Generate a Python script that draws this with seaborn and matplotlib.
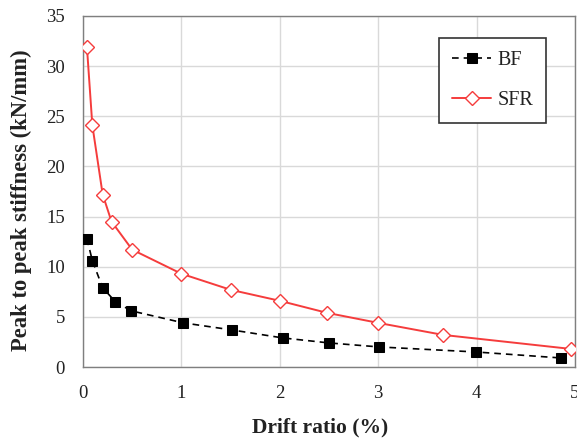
import matplotlib
matplotlib.use("Agg")
import matplotlib.pyplot as plt
import seaborn as sns
import pandas as pd

# Drift ratio (%) and peak-to-peak stiffness (kN/mm) for each specimen
bf_drift = [0.04, 0.095, 0.2, 0.33, 0.49, 1.02, 1.51, 2.03, 2.5, 3.01, 3.99, 4.86]
bf_stiff = [12.8, 10.6, 7.9, 6.5, 5.6, 4.4, 3.7, 2.9, 2.4, 2.0, 1.5, 0.9]

sfr_drift = [0.04, 0.095, 0.2, 0.29, 0.5, 1.0, 1.5, 2.0, 2.48, 3.0, 3.66, 4.96]
sfr_stiff = [31.9, 24.1, 17.2, 14.5, 11.7, 9.3, 7.7, 6.6, 5.4, 4.4, 3.2, 1.8]

x_ticks = [0, 1, 2, 3, 4, 5]
y_ticks = [0, 5, 10, 15, 20, 25, 30, 35]

sns.set_theme(style="whitegrid")
plt.rcParams["font.family"] = ["Liberation Serif", "DejaVu Serif"]

bf = pd.DataFrame({"drift": bf_drift, "stiffness": bf_stiff})
sfr = pd.DataFrame({"drift": sfr_drift, "stiffness": sfr_stiff})

fig = plt.figure(figsize=(5.77, 4.38), dpi=100)
ax = fig.add_axes([83 / 577, 1 - 367 / 438, 492 / 577, 351 / 438])

red = "#f53c3c"
sns.lineplot(data=bf, x="drift", y="stiffness", ax=ax, color="black",
             linestyle=(0, (4, 3)), linewidth=1.2, marker="s", markersize=7,
             markerfacecolor="black", markeredgecolor="black", label="BF",
             zorder=3)
sns.lineplot(data=sfr, x="drift", y="stiffness", ax=ax, color=red,
             linewidth=1.4, marker="D", markersize=7.5,
             markerfacecolor="white", markeredgecolor=red,
             markeredgewidth=1.0, label="SFR", zorder=4)

ax.set_xlim(0, 5)
ax.set_ylim(0, 35)
ax.set_xticks(x_ticks)
ax.set_yticks(y_ticks)
ax.tick_params(axis="x", labelsize=13.5, length=4, direction="in",
               color="#7f7f7f", pad=13, labelcolor="#222222")
ax.tick_params(axis="y", labelsize=13.5, length=0, pad=13,
               labelcolor="#222222")
ax.grid(True, color="#d9d9d9", linewidth=1.0)
for s in ax.spines.values():
    s.set_color("#7f7f7f")
    s.set_linewidth(1.0)

ax.set_xlabel("Drift ratio (%)", fontsize=15.5, fontweight="bold",
              color="#222222")
ax.set_ylabel("Peak to peak stiffness (kN/mm)", fontsize=16.3,
              fontweight="bold", color="#222222")
ax.xaxis.set_label_coords((320 - 83) / 492, (367 - 427) / 351)
ax.xaxis.label.set_va("center")
ax.yaxis.set_label_coords((21 - 83) / 492, (367 - 200) / 351)
ax.yaxis.label.set_va("center")

leg = ax.legend(loc="upper right", bbox_to_anchor=((546 - 83) / 492, (367 - 38) / 351),
                fontsize=14.5, frameon=True, fancybox=False,
                edgecolor="#333333", framealpha=1, borderpad=0.63,
                labelspacing=1.05, handlelength=1.95, handletextpad=0.3,
                borderaxespad=0)
leg.get_frame().set_linewidth(1.2)
for t in leg.get_texts():
    t.set_color("#222222")

fig.savefig("out.png", dpi=100)
